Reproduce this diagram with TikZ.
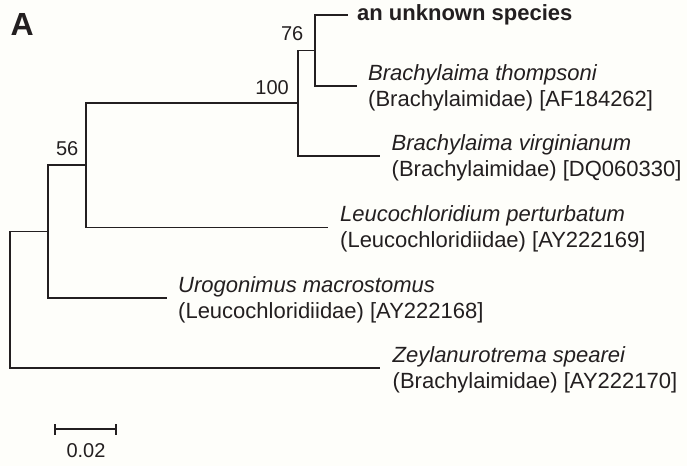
\documentclass[tikz,border=0pt]{standalone}
\usepackage{fontspec}
\setmainfont{Liberation Sans}
\definecolor{ink}{RGB}{35,31,32}
\definecolor{paper}{RGB}{254,254,250}
\begin{document}
\begin{tikzpicture}[x=1pt,y=-1pt,
  branch/.style={line width=1.6pt, draw=ink, line join=miter},
  leaf/.style={anchor=west, inner sep=0pt, align=left, text=ink, font=\fontsize{22}{25.5}\selectfont},
  boot/.style={anchor=base east, inner sep=0pt, text=ink, font=\fontsize{20}{24}\selectfont}]
\fill[paper] (0,0) rectangle (687,466);
\useasboundingbox (0,0) rectangle (687,466);
% panel letter
\node[anchor=base west, inner sep=0pt, text=ink, font=\fontsize{32}{36}\bfseries\selectfont] (panel) at (10.5,35) {A};
% internal nodes
\coordinate (root) at (10,299.5);
\coordinate (nA) at (48,231.5);
\coordinate (nB) at (86,165);
\coordinate (nC) at (298,103);
\coordinate (nD) at (315,50.5);
% branch tips
\coordinate (tU) at (348,15);
\coordinate (tT) at (357,86);
\coordinate (tV) at (380,156);
\coordinate (tL) at (328,227.5);
\coordinate (tG) at (166.5,298);
\coordinate (tZ) at (380,368);
% branches
\draw[branch] (root) |- (nA);
\draw[branch] (root) |- (tZ);
\draw[branch] (nA) |- (nB);
\draw[branch] (nA) |- (tG);
\draw[branch] (nB) |- (nC);
\draw[branch] (nB) |- (tL);
\draw[branch] (nC) |- (nD);
\draw[branch] (nC) |- (tV);
\draw[branch] (nD) |- (tU);
\draw[branch] (nD) |- (tT);
% leaf labels
\node[leaf, font=\fontsize{22}{25.5}\bfseries\selectfont] (lU) at (357,15) {an unknown species};
\node[leaf] (lT) at (368,88) {\itshape Brachylaima thompsoni\\(Brachylaimidae) [AF184262]};
\node[leaf] (lV) at (391.5,158) {\itshape Brachylaima virginianum\\(Brachylaimidae) [DQ060330]};
\node[leaf] (lL) at (340,229) {\itshape Leucochloridium perturbatum\\(Leucochloridiidae) [AY222169]};
\node[leaf] (lG) at (178,300) {\itshape Urogonimus macrostomus\\(Leucochloridiidae) [AY222168]};
\node[leaf] (lZ) at (392.5,370) {\itshape Zeylanurotrema spearei\\(Brachylaimidae) [AY222170]};
% bootstrap values
\node[boot] (b56) at (78.5,155) {56};
\node[boot] (b100) at (289,94) {100};
\node[boot] (b76) at (303.5,40.7) {76};
% scale bar
\coordinate (sL) at (55,429);
\coordinate (sR) at (116,429);
\draw[branch] (sL) -- (sR);
\draw[branch] ([yshift=-5.5pt]sL) -- ([yshift=5.5pt]sL);
\draw[branch] ([yshift=-5.5pt]sR) -- ([yshift=5.5pt]sR);
\node[anchor=base, inner sep=0pt, text=ink, font=\fontsize{20}{24}\selectfont] (scale) at (86,457) {0.02};
\end{tikzpicture}
\end{document}
